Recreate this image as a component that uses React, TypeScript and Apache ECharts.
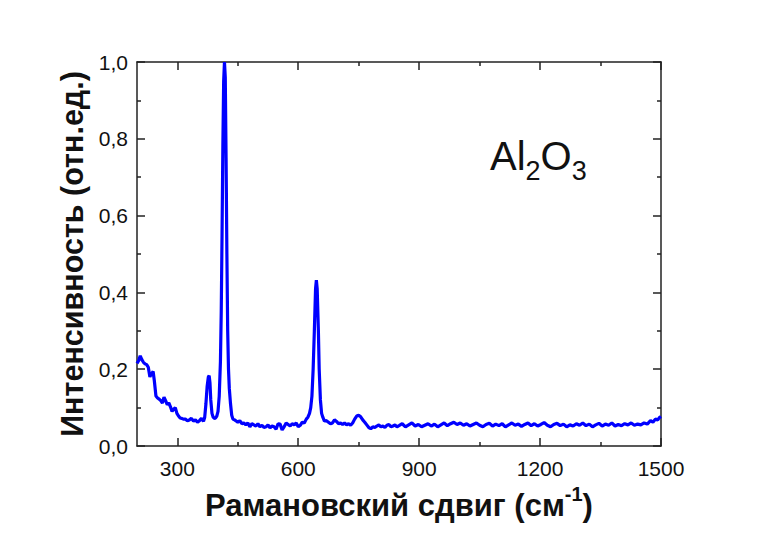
import React, { useEffect, useRef } from "react";
import * as echarts from "echarts";

const ramanShift: number[] = [
  200, 204, 208, 212, 216, 220, 224, 228, 232, 236, 240, 243, 247, 251, 255, 259, 263, 267, 271, 275,
  279, 283, 287, 291, 295, 299, 303, 307, 311, 315, 320, 325, 330, 335, 340, 345, 350, 355, 360, 365,
  368, 371, 374, 377, 379, 381, 383, 386, 389, 392, 395, 398, 401, 404, 407, 409, 411, 413, 415, 417,
  419, 421, 423, 425, 427, 429, 432, 435, 438, 442, 446, 450, 455, 460, 465, 470, 475, 480, 485, 490,
  495, 500, 505, 510, 515, 520, 525, 530, 535, 540, 545, 550, 555, 560, 565, 570, 575, 580, 585, 590,
  595, 600, 605, 610, 615, 620, 624, 628, 631, 634, 637, 640, 643, 645, 647, 650, 652, 655, 658, 661,
  665, 670, 675, 680, 685, 690, 695, 700, 705, 710, 715, 720, 725, 730, 735, 740, 745, 750, 755, 760,
  765, 770, 775, 780, 785, 790, 795, 800, 805, 810, 815, 820, 825, 830, 835, 840, 845,
  850, 858, 866, 874, 882, 890, 898, 906, 914, 922, 930, 938, 946, 954, 962, 970, 978, 986, 994,
  1002, 1010, 1018, 1026, 1034, 1042, 1050, 1058, 1066, 1074, 1082, 1090, 1098, 1106, 1114, 1122,
  1130, 1138, 1146, 1154, 1162, 1170, 1178, 1186, 1194, 1202, 1210, 1218, 1226, 1234, 1242, 1250,
  1258, 1266, 1274, 1282, 1290, 1298, 1306, 1314, 1322, 1330, 1338, 1346, 1354, 1362, 1370, 1378,
  1386, 1394, 1402, 1410, 1418, 1426, 1434, 1442, 1450, 1458, 1466, 1474, 1480, 1486, 1492, 1496, 1500,
];

const intensity: number[] = [
  0.215, 0.222, 0.235, 0.225, 0.218, 0.214, 0.212, 0.205, 0.18, 0.188, 0.194, 0.17, 0.13, 0.125, 0.122, 0.118, 0.112, 0.127, 0.118, 0.108,
  0.112, 0.102, 0.09, 0.096, 0.1, 0.085, 0.078, 0.073, 0.072, 0.07, 0.07, 0.066, 0.068, 0.072, 0.065, 0.068, 0.062, 0.066, 0.072, 0.064,
  0.075, 0.11, 0.155, 0.18, 0.183, 0.165, 0.12, 0.085, 0.075, 0.072, 0.073, 0.078, 0.09, 0.13, 0.22, 0.35, 0.55, 0.78, 0.95, 1.0,
  0.96, 0.75, 0.5, 0.3, 0.2, 0.15, 0.11, 0.08, 0.07, 0.068, 0.065, 0.062, 0.066, 0.058, 0.06, 0.055, 0.06, 0.05, 0.058, 0.055,
  0.052, 0.058, 0.05, 0.054, 0.048, 0.05, 0.055, 0.047, 0.052, 0.05, 0.044, 0.058, 0.057, 0.042, 0.05, 0.06, 0.056, 0.052, 0.058, 0.055,
  0.06, 0.05, 0.054, 0.062, 0.06, 0.07, 0.075, 0.085, 0.1, 0.13, 0.2, 0.3, 0.41, 0.432, 0.41, 0.3, 0.2, 0.12, 0.085, 0.075,
  0.065, 0.066, 0.062, 0.058, 0.06, 0.068, 0.064, 0.058, 0.06, 0.056, 0.06, 0.055, 0.058, 0.054, 0.06, 0.07, 0.078, 0.08, 0.076, 0.068,
  0.062, 0.055, 0.048, 0.045, 0.05, 0.048, 0.052, 0.055, 0.05, 0.052, 0.048, 0.054, 0.056, 0.05, 0.052, 0.055, 0.05,
  0.053, 0.058, 0.05, 0.055, 0.06, 0.052, 0.056, 0.05, 0.054, 0.058, 0.052, 0.057, 0.05, 0.055, 0.06, 0.053, 0.058, 0.062, 0.056,
  0.06, 0.054, 0.058, 0.052, 0.056, 0.06, 0.054, 0.05, 0.056, 0.059, 0.052, 0.057, 0.053, 0.058, 0.05, 0.055,
  0.06, 0.054, 0.057, 0.051, 0.056, 0.06, 0.053, 0.058, 0.052, 0.056, 0.061, 0.054, 0.05, 0.056, 0.059, 0.053,
  0.057, 0.05, 0.055, 0.052, 0.058, 0.054, 0.06, 0.053, 0.057, 0.05, 0.055, 0.059, 0.052, 0.057, 0.054, 0.06,
  0.052, 0.056, 0.053, 0.058, 0.055, 0.06, 0.054, 0.057, 0.055, 0.06, 0.057, 0.066, 0.062, 0.07, 0.068, 0.074, 0.077,
];

const xMajorTicks: number[] = [300, 600, 900, 1200, 1500];
const xMinorTicks: number[] = [450, 750, 1050, 1350];

const FONT = "Liberation Sans, Arial, sans-serif";
const AXIS_COLOR = "#222";

export default function App() {
  const ref = useRef<HTMLDivElement>(null);

  useEffect(() => {
    if (!ref.current) return;
    const chart = echarts.init(ref.current, null, { renderer: "svg" });
    const data = ramanShift.map((x, i) => [x, intensity[i]]);

    const baseX = {
      type: "value" as const,
      min: 200,
      max: 1500,
      splitLine: { show: false },
      axisLine: { show: false, onZero: false },
    };

    chart.setOption({
      animation: false,
      backgroundColor: "#ffffff",
      grid: { left: 137, right: 107, top: 62, bottom: 90, containLabel: false },
      xAxis: [
        {
          ...baseX,
          position: "bottom",
          axisLine: { show: true, onZero: false, lineStyle: { color: AXIS_COLOR, width: 1.5 } },
          axisTick: { show: true, inside: true, length: 8, customValues: xMajorTicks, lineStyle: { color: AXIS_COLOR, width: 1.5 } },
          axisLabel: {
            show: true,
            customValues: xMajorTicks,
            margin: 12,
            fontSize: 21,
            fontFamily: FONT,
            color: "#111",
            formatter: (v: number) => String(v),
          },
          name: "{m|Рамановский сдвиг (см}{s|-1}{m|)}",
          nameLocation: "middle",
          nameGap: 37,
          nameTextStyle: {
            rich: {
              m: { fontSize: 31, fontWeight: "bold", fontFamily: FONT, color: "#111", lineHeight: 37, verticalAlign: "bottom" },
              s: { fontSize: 20, fontWeight: "bold", fontFamily: FONT, color: "#111", lineHeight: 20, verticalAlign: "top" },
            },
          },
        },
        {
          ...baseX,
          position: "bottom",
          axisTick: { show: true, inside: true, length: 4, customValues: xMinorTicks, lineStyle: { color: AXIS_COLOR, width: 1.5 } },
          axisLabel: { show: false },
        },
        {
          ...baseX,
          position: "top",
          axisLine: { show: true, onZero: false, lineStyle: { color: AXIS_COLOR, width: 1.5 } },
          axisTick: { show: true, inside: true, length: 8, customValues: xMajorTicks, lineStyle: { color: AXIS_COLOR, width: 1.5 } },
          axisLabel: { show: false },
        },
        {
          ...baseX,
          position: "top",
          axisTick: { show: true, inside: true, length: 4, customValues: xMinorTicks, lineStyle: { color: AXIS_COLOR, width: 1.5 } },
          axisLabel: { show: false },
        },
      ],
      yAxis: [
        {
          type: "value",
          position: "left",
          min: 0,
          max: 1,
          interval: 0.2,
          splitLine: { show: false },
          axisLine: { show: true, onZero: false, lineStyle: { color: AXIS_COLOR, width: 1.5 } },
          axisTick: { show: true, inside: true, length: 8, lineStyle: { color: AXIS_COLOR, width: 1.5 } },
          minorTick: { show: true, splitNumber: 2, length: 4, lineStyle: { color: AXIS_COLOR, width: 1.5 } },
          minorSplitLine: { show: false },
          axisLabel: {
            margin: 9,
            fontSize: 21,
            fontFamily: FONT,
            color: "#111",
            formatter: (v: number) => v.toFixed(1).replace(".", ","),
          },
          name: "Интенсивность (отн.ед.)",
          nameLocation: "middle",
          nameGap: 48,
          nameTextStyle: { fontSize: 30.5, fontWeight: "bold", fontFamily: FONT, color: "#111" },
        },
        {
          type: "value",
          position: "right",
          min: 0,
          max: 1,
          interval: 0.2,
          splitLine: { show: false },
          axisLine: { show: true, onZero: false, lineStyle: { color: AXIS_COLOR, width: 1.5 } },
          axisTick: { show: true, inside: true, length: 8, lineStyle: { color: AXIS_COLOR, width: 1.5 } },
          minorTick: { show: true, splitNumber: 2, length: 4, lineStyle: { color: AXIS_COLOR, width: 1.5 } },
          axisLabel: { show: false },
        },
      ],
      graphic: [
        {
          type: "text",
          left: 490,
          top: 136,
          style: {
            text: "{m|Al}{s|2}{m|O}{s|3}",
            rich: {
              m: { fontSize: 40, fontFamily: FONT, fill: "#111", lineHeight: 40, padding: [0, 0, 8, 0], verticalAlign: "bottom" },
              s: { fontSize: 27, fontFamily: FONT, fill: "#111", lineHeight: 27, verticalAlign: "bottom" },
            },
          },
        },
      ],
      series: [
        {
          type: "line",
          xAxisIndex: 0,
          yAxisIndex: 0,
          data,
          showSymbol: false,
          symbol: "none",
          lineStyle: { color: "#0000ff", width: 3.2 },
          itemStyle: { color: "#0000ff" },
          clip: true,
        },
      ],
    });

    return () => chart.dispose();
  }, []);

  return (
    <div
      ref={ref}
      style={{ position: "fixed", left: 0, top: 0, width: 768, height: 536 }}
    />
  );
}
